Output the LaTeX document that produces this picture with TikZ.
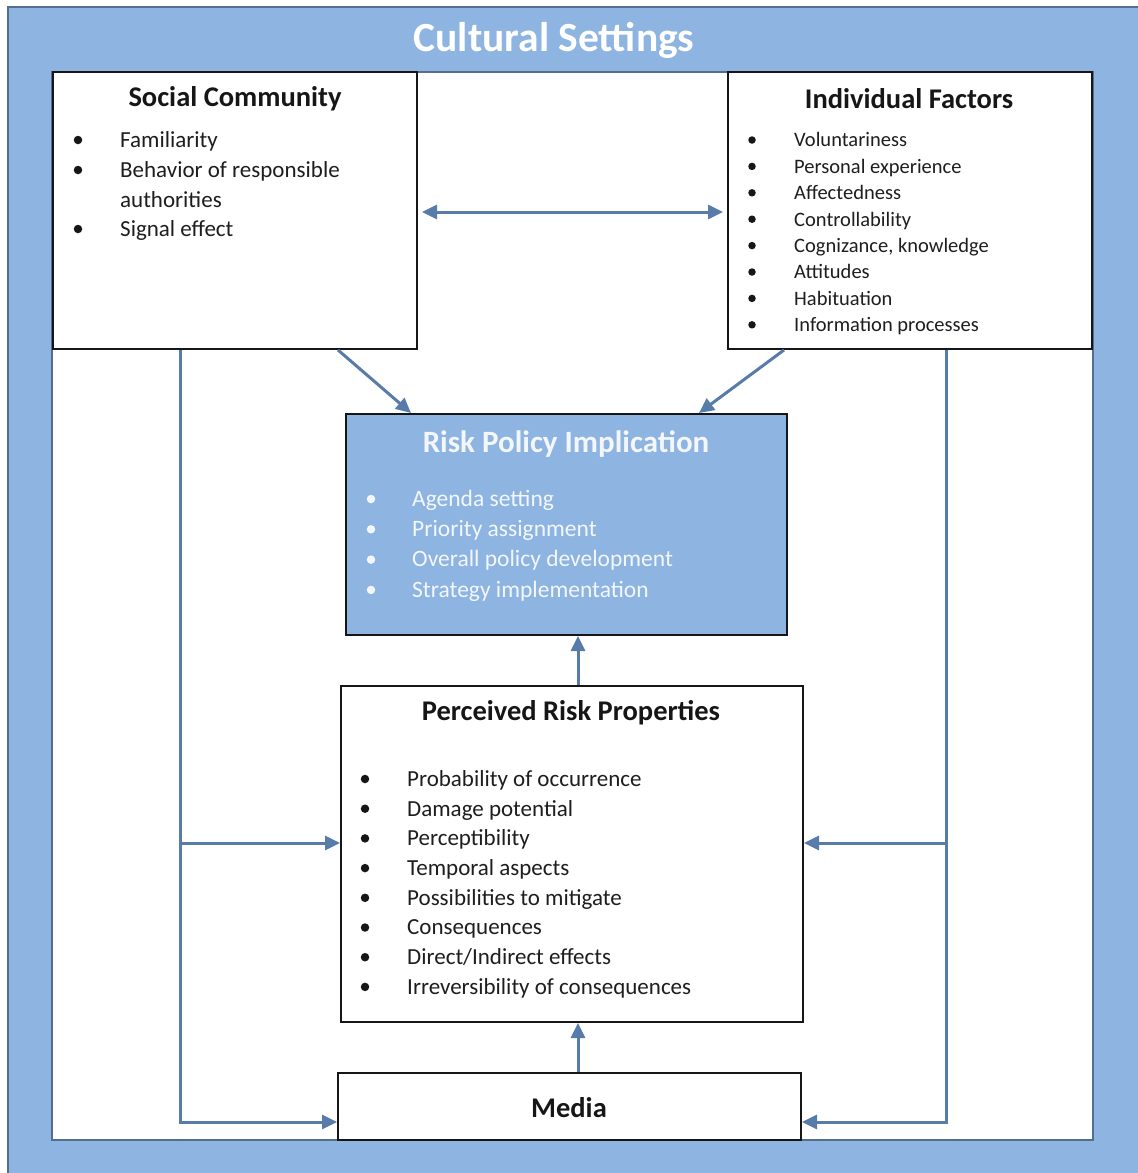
\documentclass[tikz,border=0pt]{standalone}
\usepackage{fontspec}
\setmainfont{Carlito}
\usetikzlibrary{arrows.meta}
\definecolor{sky}{RGB}{142,180,226}
\definecolor{frameline}{RGB}{84,110,146}
\definecolor{conn}{RGB}{88,124,170}
\definecolor{ink}{RGB}{22,22,22}
\definecolor{bodyink}{RGB}{30,30,30}
\definecolor{paleink}{RGB}{243,247,252}

\begin{document}
\begin{tikzpicture}[x=1pt,y=-1pt,
  box/.style={draw=ink, line width=2pt, fill=white, inner sep=0pt},
  head/.style={font=\fontsize{28.5}{34}\selectfont\bfseries, text=ink, inner sep=0pt},
  body/.style={font=\fontsize{23}{28}\selectfont, text=bodyink, anchor=mid west, yshift=-5pt, inner sep=0pt},
  dot/.style={circle, fill=ink, inner sep=0pt, minimum size=8.5pt},
  link/.style={draw=conn, line width=3pt, -{Triangle[length=15pt,width=14pt]}},
  dbl/.style={draw=conn, line width=3pt, {Triangle[length=15pt,width=14pt]}-{Triangle[length=15pt,width=14pt]}},
]
\useasboundingbox (0,0) rectangle (1138,1173);

% outer frame and inner field
\fill[white] (0,0) rectangle (1138,1173);
\filldraw[fill=sky, draw=frameline, line width=1.5pt] (8,7) rectangle (1160,1190);
\filldraw[fill=white, draw=frameline, line width=1.5pt] (52,72) rectangle (1093,1140);

\node[font=\fontsize{41.5}{50}\selectfont\bfseries, text=white, inner sep=0pt] (title) at (554,40) {Cultural Settings};

% boxes
\node[box, minimum width=364pt, minimum height=277pt] (soc) at (235,210.5) {};
\node[box, minimum width=364pt, minimum height=277pt] (ind) at (910,210.5) {};
\node[box, fill=sky, minimum width=441pt, minimum height=221pt] (risk) at (566.5,524.5) {};
\node[box, minimum width=462pt, minimum height=336pt] (perc) at (572,854) {};
\node[box, minimum width=463pt, minimum height=67pt] (media) at (569.5,1106.5) {};

% social community
\node[head] (socT) at (235,99) {Social Community};
\node[dot] (socB1) at (78,140) {};
\node[dot] (socB2) at (78,170) {};
\node[dot] (socB3) at (78,229) {};
\node[body] (socL1) at (120,140) {Familiarity};
\node[body] (socL2) at (120,170) {Behavior of responsible};
\node[body] (socL3) at (120,200) {authorities};
\node[body] (socL4) at (120,229) {Signal effect};

% individual factors
\node[head] (indT) at (909,99) {Individual Factors};
\foreach \t [count=\i from 0] in {Voluntariness, Personal experience, Affectedness,
    Controllability, {Cognizance, knowledge}, Attitudes, Habituation, Information processes}{
  \node[dot, minimum size=7.5pt] (indB\i) at (752,{140+26.4*\i}) {};
  \node[body, yshift=0.5pt, font=\fontsize{20.5}{25}\selectfont] (indL\i) at (794,{140+26.4*\i}) {\t};
}

% risk policy implication
\node[head, font=\fontsize{31}{37}\selectfont\bfseries, text=paleink] (riskT) at (566,444) {Risk Policy Implication};
\foreach \t [count=\i from 0] in {Agenda setting, Priority assignment,
    Overall policy development, Strategy implementation}{
  \node[dot, fill=paleink] (riskB\i) at (371,{499+30.3*\i}) {};
  \node[body, font=\fontsize{23.5}{28}\selectfont, text=paleink] (riskL\i) at (412,{499+30.3*\i}) {\t};
}

% perceived risk properties
\node[head] (percT) at (571,713) {Perceived Risk Properties};
\foreach \t [count=\i from 0] in {Probability of occurrence, Damage potential, Perceptibility,
    Temporal aspects, Possibilities to mitigate, Consequences,
    Direct/Indirect effects, Irreversibility of consequences}{
  \node[dot] (percB\i) at (365,{779+29.7*\i}) {};
  \node[body] (percL\i) at (407,{779+29.7*\i}) {\t};
}

% media
\node[head] (mediaT) at (569,1108) {Media};

% connectors
\draw[dbl] ([xshift=4pt,yshift=-1.5pt]soc.east) -- ([xshift=-4pt,yshift=-1.5pt]ind.west);
\draw[link] ([xshift=-80pt]soc.south east) -- ([xshift=66pt]risk.north west);
\draw[link] ([xshift=57pt]ind.south west) -- ([xshift=-89pt]risk.north east);
\draw[link] ([xshift=6pt]perc.north) -- ([xshift=6pt]perc.north |- risk.south);
\draw[link] ([xshift=8.5pt]media.north) -- ([xshift=8.5pt]media.north |- perc.south);

\coordinate (lTop) at ([xshift=128pt]soc.south west);
\coordinate (rTop) at ([xshift=219pt]ind.south west);
\coordinate (lMid) at (lTop |- 0,843);
\coordinate (rMid) at (rTop |- 0,843);
\draw[link] (lTop) |- ([yshift=-15.5pt]media.west);
\draw[link] (rTop) |- ([yshift=-15.5pt]media.east);
\draw[link] (lMid) -- (lMid -| perc.west);
\draw[link] (rMid) -- (rMid -| perc.east);
\end{tikzpicture}
\end{document}
